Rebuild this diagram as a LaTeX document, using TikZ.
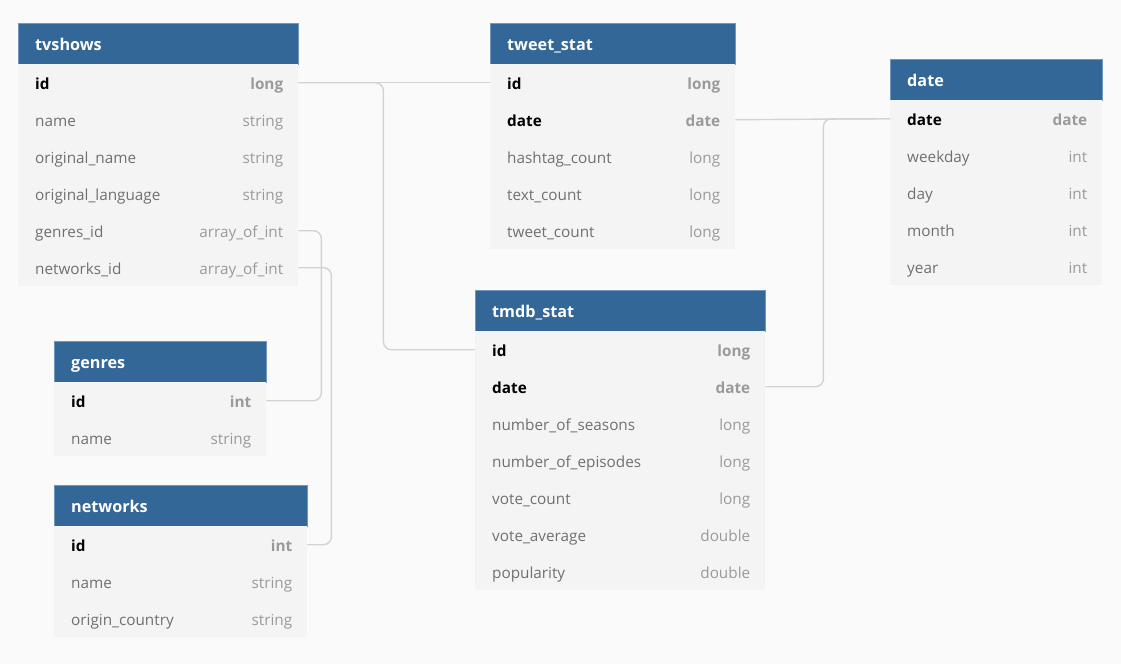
\documentclass[tikz,border=0pt]{standalone}
\usepackage{fontspec}
\setmainfont{Open Sans}
\definecolor{hdblue}{HTML}{326798}
\definecolor{hdedge}{HTML}{7297BE}
\definecolor{rowfill}{HTML}{F4F4F4}
\definecolor{bggray}{HTML}{FAFAFA}
\definecolor{namegray}{HTML}{707070}
\definecolor{typegray}{HTML}{9A9A9A}
\definecolor{linkgray}{HTML}{D3D3D3}

\begin{document}
\begin{tikzpicture}[x=1pt, y=-1pt, font=\fontsize{15.3}{18}\selectfont]
    \tikzstyle{header}=[rectangle, fill=hdblue, draw=hdedge, line width=0.7pt, minimum height=41, inner sep=0pt, anchor=north west]
    \tikzstyle{row}=[rectangle, fill=rowfill, minimum height=37, inner sep=0pt, anchor=north west]
    \tikzstyle{title}=[anchor=base west, inner sep=0pt, text=white, font=\fontsize{16.2}{19}\selectfont\bfseries]
    \tikzstyle{fname}=[anchor=base west, inner sep=0pt, text=namegray]
    \tikzstyle{ftype}=[anchor=base east, inner sep=0pt, text=typegray]
    \tikzstyle{link}=[draw=linkgray, line width=1.4pt, rounded corners=8pt]

    \def\keyf#1{\textcolor{black}{\bfseries #1}}
    \def\keyt#1{\textbf{#1}}

    % Page background
    \useasboundingbox (0,0) rectangle (1121,664);
    \fill[bggray] (0,0) rectangle (1121,664);

    % Table tvshows
    \node[header, minimum width=280] (tv) at (18,23) {};
    \node[title] (tv-t) at ([xshift=17pt,yshift=-6.5pt]tv.west) {tvshows};
    \foreach \fn / \ft [count=\i] in {\keyf{id}/\keyt{long}, name/string,
        original\_name/string, original\_language/string,
        genres\_id/array\_of\_int, networks\_id/array\_of\_int} {
        \node[row, minimum width=280] (tv-\i) at (18,27+37*\i) {};
        \node[fname] at ([xshift=17pt,yshift=-7pt]tv-\i.west) {\fn};
        \node[ftype] at ([xshift=-15pt,yshift=-7pt]tv-\i.east) {\ft};
    }

    % Table tweet_stat
    \node[header, minimum width=245] (tw) at (490,23) {};
    \node[title] (tw-t) at ([xshift=17pt,yshift=-6.5pt]tw.west) {tweet\_stat};
    \foreach \fn / \ft [count=\i] in {\keyf{id}/\keyt{long}, \keyf{date}/\keyt{date},
        hashtag\_count/long, text\_count/long, tweet\_count/long} {
        \node[row, minimum width=245] (tw-\i) at (490,27+37*\i) {};
        \node[fname] at ([xshift=17pt,yshift=-7pt]tw-\i.west) {\fn};
        \node[ftype] at ([xshift=-15pt,yshift=-7pt]tw-\i.east) {\ft};
    }

    % Table date
    \node[header, minimum width=212] (dt) at (890,59) {};
    \node[title] (dt-t) at ([xshift=17pt,yshift=-6.5pt]dt.west) {date};
    \foreach \fn / \ft [count=\i] in {\keyf{date}/\keyt{date}, weekday/int,
        day/int, month/int, year/int} {
        \node[row, minimum width=212] (dt-\i) at (890,63+37*\i) {};
        \node[fname] at ([xshift=17pt,yshift=-7pt]dt-\i.west) {\fn};
        \node[ftype] at ([xshift=-15pt,yshift=-7pt]dt-\i.east) {\ft};
    }

    % Table tmdb_stat
    \node[header, minimum width=290] (tm) at (475,290) {};
    \node[title] (tm-t) at ([xshift=17pt,yshift=-6.5pt]tm.west) {tmdb\_stat};
    \foreach \fn / \ft [count=\i] in {\keyf{id}/\keyt{long}, \keyf{date}/\keyt{date},
        number\_of\_seasons/long, number\_of\_episodes/long, vote\_count/long,
        vote\_average/double, popularity/double} {
        \node[row, minimum width=290] (tm-\i) at (475,294+37*\i) {};
        \node[fname] at ([xshift=17pt,yshift=-7pt]tm-\i.west) {\fn};
        \node[ftype] at ([xshift=-15pt,yshift=-7pt]tm-\i.east) {\ft};
    }

    % Table genres
    \node[header, minimum width=212] (ge) at (54,341) {};
    \node[title] (ge-t) at ([xshift=17pt,yshift=-6.5pt]ge.west) {genres};
    \foreach \fn / \ft [count=\i] in {\keyf{id}/\keyt{int}, name/string} {
        \node[row, minimum width=212] (ge-\i) at (54,345+37*\i) {};
        \node[fname] at ([xshift=17pt,yshift=-7pt]ge-\i.west) {\fn};
        \node[ftype] at ([xshift=-15pt,yshift=-7pt]ge-\i.east) {\ft};
    }

    % Table networks
    \node[header, minimum width=253] (nw) at (54,485) {};
    \node[title] (nw-t) at ([xshift=17pt,yshift=-6.5pt]nw.west) {networks};
    \foreach \fn / \ft [count=\i] in {\keyf{id}/\keyt{int}, name/string,
        origin\_country/string} {
        \node[row, minimum width=253] (nw-\i) at (54,489+37*\i) {};
        \node[fname] at ([xshift=17pt,yshift=-7pt]nw-\i.west) {\fn};
        \node[ftype] at ([xshift=-15pt,yshift=-7pt]nw-\i.east) {\ft};
    }

    % Relations
    \draw[link] (tv-1.east) -- (tw-1.west);
    \draw[link] (tv-1.east) -- ++(85,0) |- (tm-1.west);
    \draw[link] (tw-2.east) -- (dt-1.west);
    \draw[link] (tm-2.east) -- ++(58,0) |- (dt-1.west);
    \draw[link] (tv-5.east) -- ++(23,0) |- (ge-1.east);
    \draw[link] (tv-6.east) -- ++(33,0) |- (nw-1.east);
\end{tikzpicture}
\end{document}
